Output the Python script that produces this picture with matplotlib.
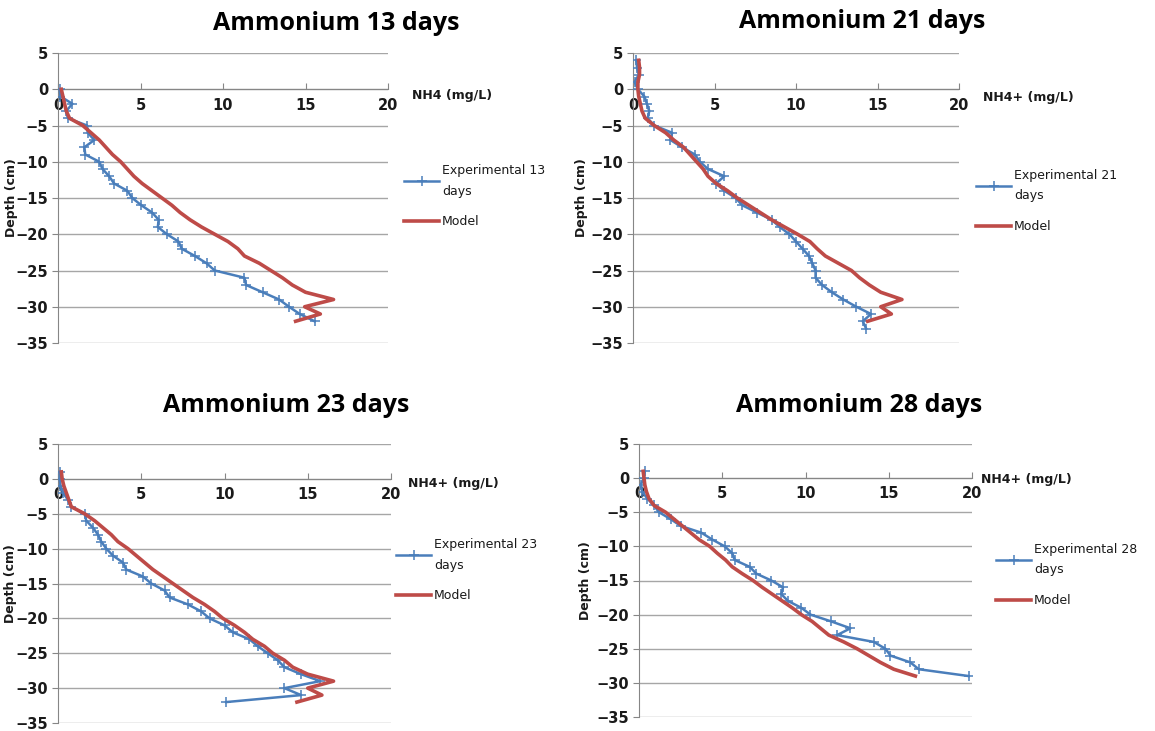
import numpy as np
import matplotlib.pyplot as plt

W, H = 1155, 731

# ---------------- data ----------------
depth_exp_13 = np.arange(0, -33, -1)
exp_13 = [0.1, 0.15, 0.87, 0.5, 0.6, 1.76, 1.8, 2.2, 1.6, 1.65, 2.5, 2.7, 3.1,
          3.4, 4.2, 4.5, 5.05, 5.7, 6.1, 6.05, 6.6, 7.3, 7.5, 8.3, 9.0, 9.5,
          11.3, 11.4, 12.4, 13.4, 14.0, 14.65, 15.55]
depth_mod_13 = np.arange(0, -33, -1)
model_13 = [0.2, 0.3, 0.4, 0.5, 0.7, 1.5, 2.0, 2.5, 2.9, 3.3, 3.8, 4.2, 4.6,
            5.1, 5.7, 6.3, 6.9, 7.4, 8.0, 8.7, 9.5, 10.3, 10.9, 11.3, 12.2,
            12.9, 13.6, 14.2, 15.0, 16.7, 14.95, 15.9, 14.4]

depth_exp_21 = np.arange(4, -34, -1)
exp_21 = [0.2, 0.25, 0.35, 0.1, 0.3, 0.7, 0.85, 1.0, 0.9, 1.3, 2.4, 2.3, 3.0,
          3.8, 4.1, 4.6, 5.6, 5.1, 5.6, 6.3, 6.7, 7.6, 8.5, 9.0, 9.6, 10.0,
          10.4, 10.8, 11.0, 11.2, 11.2, 11.6, 12.2, 12.9, 13.7, 14.6, 14.1,
          14.3]
depth_mod_21 = np.arange(4, -33, -1)
model_21 = [0.35, 0.4, 0.4, 0.3, 0.3, 0.35, 0.45, 0.55, 0.75, 1.3, 2.0, 2.5,
            3.1, 3.5, 3.9, 4.3, 4.6, 5.1, 5.8, 6.4, 7.1, 7.8, 8.5, 9.3, 10.1,
            10.85, 11.3, 11.8, 12.6, 13.4, 13.9, 14.5, 15.2, 16.5, 15.2, 15.85,
            14.4]

depth_exp_23 = np.arange(1, -33, -1)
exp_23 = [0.1, 0.1, 0.15, 0.3, 0.6, 0.8, 1.6, 1.7, 2.1, 2.4, 2.6, 2.9, 3.3,
          3.9, 4.1, 5.1, 5.6, 6.4, 6.7, 7.8, 8.6, 9.1, 10.0, 10.5, 11.5, 12.0,
          12.6, 13.2, 13.6, 14.6, 15.75, 13.6, 14.6, 10.1]
depth_mod_23 = np.arange(1, -33, -1)
model_23 = [0.2, 0.25, 0.35, 0.5, 0.65, 0.8, 1.6, 2.2, 2.7, 3.2, 3.6, 4.2,
            4.7, 5.2, 5.7, 6.3, 6.9, 7.5, 8.1, 8.8, 9.4, 9.9, 10.6, 11.2, 11.7,
            12.4, 12.9, 13.6, 14.1, 15.0, 16.55, 15.0, 15.85, 14.35]

depth_exp_28 = np.arange(1, -30, -1)
exp_28 = [0.35, 0.3, 0.1, 0.2, 0.5, 0.9, 1.2, 1.9, 2.5, 3.75, 4.4, 5.15, 5.6,
          5.75, 6.65, 7.05, 7.95, 8.65, 8.55, 8.95, 9.75, 10.3, 11.55, 12.7,
          11.9, 14.1, 14.8, 15.1, 16.3, 16.8, 19.8]
depth_mod_28 = np.arange(1, -30, -1)
model_28 = [0.25, 0.3, 0.35, 0.45, 0.6, 0.9, 1.6, 2.1, 2.6, 3.1, 3.6, 4.25,
            4.7, 5.2, 5.6, 6.2, 6.85, 7.4, 8.0, 8.6, 9.2, 9.75, 10.4, 10.9,
            11.4, 12.3, 13.1, 13.8, 14.5, 15.3, 16.6]

titles = ["Ammonium 13 days", "Ammonium 21 days", "Ammonium 23 days", "Ammonium 28 days"]
xlabels = ["NH4 (mg/L)", "NH4+ (mg/L)", "NH4+ (mg/L)", "NH4+ (mg/L)"]
exp_labels = ["Experimental 13\ndays", "Experimental 21\ndays",
              "Experimental 23\ndays", "Experimental 28\ndays"]

series = [(depth_exp_13, exp_13, depth_mod_13, model_13),
          (depth_exp_21, exp_21, depth_mod_21, model_21),
          (depth_exp_23, exp_23, depth_mod_23, model_23),
          (depth_exp_28, exp_28, depth_mod_28, model_28)]

# ---------------- layout, in pixels of the reference ----------------
# axes box: left, right, top (y=5), bottom (y=-35)
boxes = [(58, 388, 53, 343), (633, 959, 53, 343),
         (58, 391, 444, 723), (639, 972, 444, 717)]
title_pos = [(336, 24), (862, 22), (286, 405), (859, 405)]
xlabel_pos = [(412, 95), (983, 98), (408, 483), (981, 479)]
legend_pos = [(404, 164), (976, 169), (396, 538), (996, 543)]
ylabel_x = [18, 588, 17, 592]

BLUE = '#4a7ebb'
RED = '#be4b48'
GRID = '#a6a6a6'
TXT = '#1a1a1a'


def fx(px):
    return px / W


def fy(py):
    return 1 - py / H


fig = plt.figure(figsize=(W / 100, H / 100), dpi=100)

for i in range(4):
    l, r, t, b = boxes[i]
    ax = fig.add_axes([fx(l), fy(b), (r - l) / W, (b - t) / H])
    dexp, vexp, dmod, vmod = series[i]

    ax.plot(vexp, dexp, color=BLUE, lw=1.8, marker='+', ms=7, mew=1.1,
            label=exp_labels[i], zorder=3)
    ax.plot(vmod, dmod, color=RED, lw=2.6, label="Model", zorder=4)

    ax.set_xlim(0, 20)
    ax.set_ylim(-35, 5)
    ax.set_xticks(range(0, 21, 5))
    ax.set_yticks(range(-35, 6, 5))
    ax.yaxis.grid(True, color=GRID, lw=1)
    ax.set_axisbelow(True)

    for s in ['top', 'right']:
        ax.spines[s].set_visible(False)
    ax.spines['left'].set_color('#868686')
    ax.spines['bottom'].set_color('#868686')
    ax.spines['bottom'].set_position(('data', 0))

    ax.tick_params(axis='x', direction='in', length=4, color='#868686', pad=6,
                   labelsize=10.5, labelcolor=TXT)
    ax.tick_params(axis='y', direction='out', length=4, color='#868686', pad=3,
                   labelsize=10.5, labelcolor=TXT)
    for lab in ax.get_xticklabels() + ax.get_yticklabels():
        lab.set_fontweight('bold')

    ax.set_ylabel("Depth (cm)", fontsize=9, fontweight='bold', color=TXT)
    ax.yaxis.set_label_coords((ylabel_x[i] - l) / (r - l), 0.5)

    fig.text(fx(title_pos[i][0]), fy(title_pos[i][1]), titles[i],
             ha='center', va='center', fontsize=18, fontweight='bold',
             family='Open Sans', color='black')
    fig.text(fx(xlabel_pos[i][0]), fy(xlabel_pos[i][1]), xlabels[i],
             ha='left', va='center', fontsize=9, fontweight='bold', color=TXT)

    leg = ax.legend(loc='upper left', bbox_to_anchor=(fx(legend_pos[i][0]), fy(legend_pos[i][1])),
                    bbox_transform=fig.transFigure, frameon=False, fontsize=9,
                    borderpad=0, borderaxespad=0, handlelength=2.8,
                    handletextpad=0.25, labelspacing=1.4)
    for txt in leg.get_texts():
        txt.set_linespacing(1.75)
        txt.set_color(TXT)

fig.savefig("out.png", dpi=100)
